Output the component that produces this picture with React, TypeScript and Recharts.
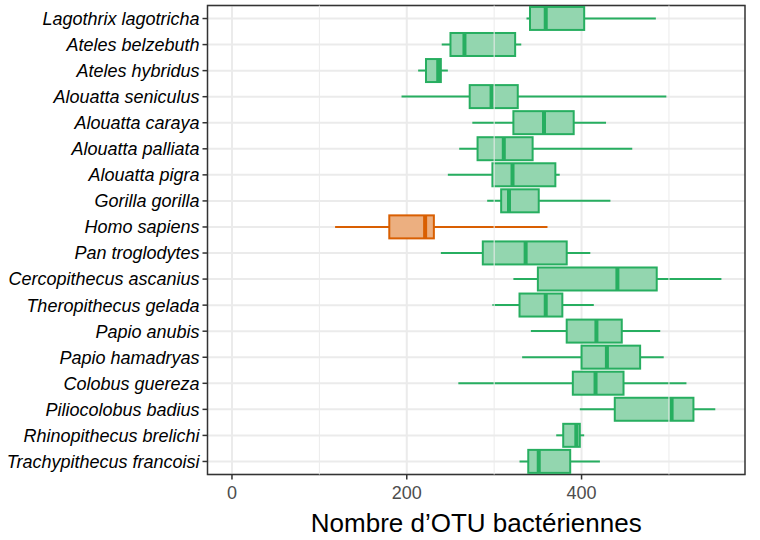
import { ComposedChart, Bar, XAxis, YAxis, CartesianGrid, ReferenceLine, ReferenceArea } from "recharts";

const species = [
  "Lagothrix lagotricha",
  "Ateles belzebuth",
  "Ateles hybridus",
  "Alouatta seniculus",
  "Alouatta caraya",
  "Alouatta palliata",
  "Alouatta pigra",
  "Gorilla gorilla",
  "Homo sapiens",
  "Pan troglodytes",
  "Cercopithecus ascanius",
  "Theropithecus gelada",
  "Papio anubis",
  "Papio hamadryas",
  "Colobus guereza",
  "Piliocolobus badius",
  "Rhinopithecus brelichi",
  "Trachypithecus francoisi",
];

const whiskerLow = [337, 240, 213, 194, 275, 260, 247, 292, 118, 239, 322, 298, 342, 332, 259, 398, 371, 329];
const q1 = [341, 250, 222, 272, 322, 281, 298, 308, 180, 287, 350, 329, 383, 400, 390, 438, 379, 339];
const median = [359, 266, 236, 297, 357, 311, 321, 317, 221, 336, 441, 359, 417, 429, 416, 503, 394, 351];
const q3 = [403, 324, 239, 327, 391, 344, 370, 351, 231, 383, 486, 378, 446, 467, 448, 528, 398, 387];
const whiskerHigh = [485, 331, 247, 497, 428, 458, 375, 433, 361, 410, 560, 414, 490, 494, 520, 553, 403, 421];

const humans = ["Homo sapiens"];
const xTicks = [0, 200, 400];
const minorTicks = [100, 300, 500];
const xDomain = [-28, 587];

const rows = species.map((name, i) => ({
  name,
  range: [whiskerLow[i], whiskerHigh[i]],
  lo: whiskerLow[i],
  hi: whiskerHigh[i],
  q1: q1[i],
  median: median[i],
  q3: q3[i],
  human: humans.includes(name),
}));

const font = "Liberation Sans, Arial, Helvetica, sans-serif";

function BoxShape(props: any) {
  const { x, y, width, height, payload } = props;
  const { lo, hi } = payload;
  const k = width / (hi - lo);
  const px = (v: number) => x + (v - lo) * k;
  const stroke = payload.human ? "#D95F02" : "#27AE60";
  const fill = payload.human ? "#ECAF80" : "#93D6AF";
  const cy = y + height / 2;
  return (
    <g>
      <line x1={px(lo)} x2={px(hi)} y1={cy} y2={cy} stroke={stroke} strokeWidth={2} />
      <rect
        x={px(payload.q1)}
        y={y}
        width={px(payload.q3) - px(payload.q1)}
        height={height}
        fill={fill}
        stroke={stroke}
        strokeWidth={2}
      />
      <line x1={px(payload.median)} x2={px(payload.median)} y1={y} y2={y + height} stroke={stroke} strokeWidth={4} />
    </g>
  );
}

export default function App() {
  return (
    <div style={{ position: "absolute", left: 0, top: 0, fontFamily: font }}>
      <ComposedChart
        width={760}
        height={540}
        data={rows}
        layout="vertical"
        barCategoryGap="5.5%"
        margin={{ top: 5.5, right: 15, bottom: 0, left: 0 }}
      >
        <CartesianGrid stroke="#EBEBEB" strokeWidth={2} verticalValues={xTicks} />
        {minorTicks.map((t) => (
          <ReferenceLine key={t} x={t} stroke="#EBEBEB" strokeWidth={1} />
        ))}
        <XAxis
          type="number"
          domain={xDomain}
          ticks={xTicks}
          allowDataOverflow
          height={65.5}
          axisLine={false}
          tickLine={{ stroke: "#333333", strokeWidth: 1.5 }}
          tickSize={5}
          tickMargin={7}
          tick={{ fill: "#4D4D4D", fontSize: 18, fontFamily: font }}
          label={{
            value: "Nombre d\u2019OTU bactériennes",
            position: "insideBottom",
            offset: 8,
            fill: "#000",
            fontSize: 26,
            fontFamily: font,
          }}
        />
        <YAxis
          type="category"
          dataKey="name"
          width={207.5}
          interval={0}
          axisLine={false}
          tickLine={{ stroke: "#333333", strokeWidth: 1.5 }}
          tickSize={5}
          tickMargin={3}
          tick={{ fill: "#000", fontSize: 18, fontStyle: "italic", fontFamily: font }}
        />
        <Bar dataKey="range" shape={<BoxShape />} isAnimationActive={false} />
        <ReferenceArea
          x1={xDomain[0]}
          x2={xDomain[1]}
          fill="none"
          stroke="#333333"
          strokeWidth={1.5}
          ifOverflow="extendDomain"
        />
      </ComposedChart>
    </div>
  );
}
